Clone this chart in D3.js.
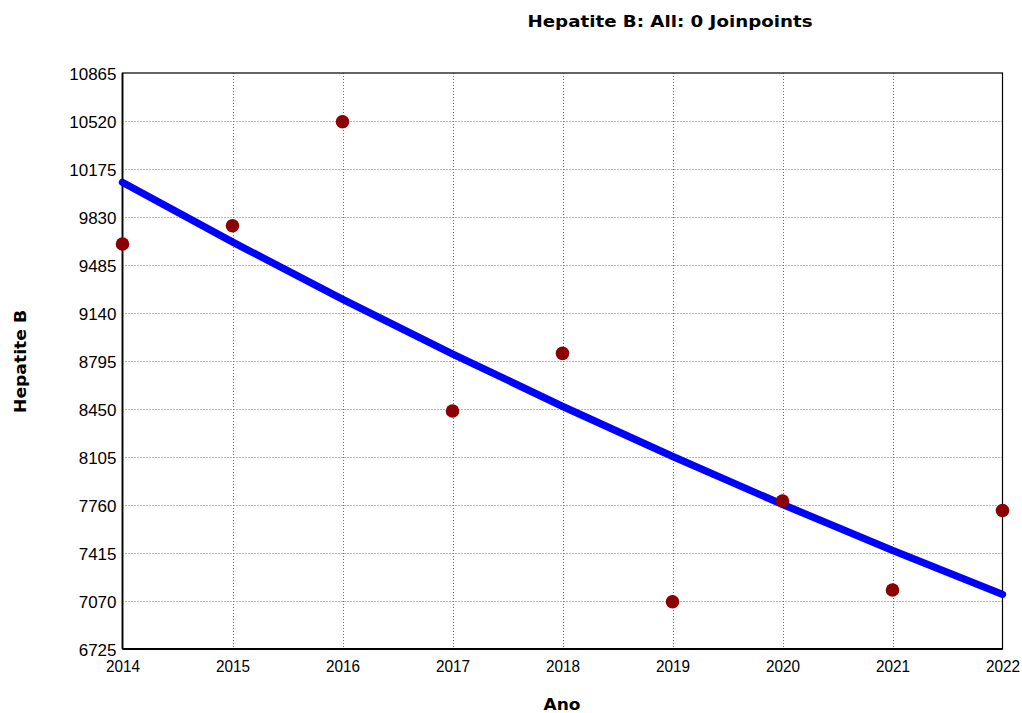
<!DOCTYPE html>
<html>
<head>
<meta charset="utf-8">
<script src="https://cdn.jsdelivr.net/npm/d3@7/dist/d3.min.js"></script>
<style>
  html, body { margin: 0; padding: 0; background: #ffffff; }
  svg { display: block; }
</style>
</head>
<body>
<svg id="chart" width="1022" height="713"></svg>
<script>
// Observed yearly counts
const years = [2014, 2015, 2016, 2017, 2018, 2019, 2020, 2021, 2022];
const observed = [9636, 9767, 10515, 8436, 8850, 7065, 7789, 7149, 7720];
// Modelled trend (0 joinpoints, log-linear)
const fitted = [10079, 9650, 9239, 8846, 8469, 8109, 7764, 7434, 7118];
// Axis ticks
const yTicks = [6725, 7070, 7415, 7760, 8105, 8450, 8795, 9140, 9485, 9830, 10175, 10520, 10865];
const xTicks = years;

const titleText = "Hepatite B: All: 0 Joinpoints";
const xLabel = "Ano";
const yLabel = "Hepatite B";

const svg = d3.select("#chart");
const plot = { left: 122.5, right: 1002.5, top: 73, bottom: 649 };

const x = d3.scaleLinear().domain([2014, 2022]).range([plot.left, plot.right]);
const y = d3.scaleLinear().domain([6725, 10865]).range([plot.bottom, plot.top]);

// Dotted grid
const grid = svg.append("g").attr("class", "grid");
grid.selectAll("line.h").data(yTicks.slice(1, -1)).enter().append("line")
  .attr("x1", plot.left).attr("x2", plot.right)
  .attr("y1", d => Math.round(y(d)) + 0.5).attr("y2", d => Math.round(y(d)) + 0.5)
  .attr("stroke", "#6e6e6e").attr("stroke-width", 1).attr("stroke-dasharray", "1,2");
grid.selectAll("line.v").data(xTicks.slice(1, -1)).enter().append("line")
  .attr("x1", d => Math.round(x(d)) + 0.5).attr("x2", d => Math.round(x(d)) + 0.5)
  .attr("y1", plot.top).attr("y2", plot.bottom)
  .attr("stroke", "#6e6e6e").attr("stroke-width", 1).attr("stroke-dasharray", "1,2");

// Plot frame
svg.append("rect")
  .attr("x", plot.left).attr("y", plot.top)
  .attr("width", plot.right - plot.left).attr("height", plot.bottom - plot.top)
  .attr("fill", "none").attr("stroke", "#000").attr("stroke-width", 1.2);
svg.append("line").attr("x1", plot.left).attr("x2", plot.left)
  .attr("y1", plot.top).attr("y2", plot.bottom).attr("stroke", "#000").attr("stroke-width", 1.8);
svg.append("line").attr("x1", plot.left).attr("x2", plot.right)
  .attr("y1", plot.bottom).attr("y2", plot.bottom).attr("stroke", "#000").attr("stroke-width", 1.8);

// Y axis
const yAxis = svg.append("g")
  .attr("transform", `translate(${plot.left},0)`)
  .call(d3.axisLeft(y).tickValues(yTicks).tickSize(0).tickPadding(6).tickFormat(d3.format("d")));
yAxis.select(".domain").remove();
yAxis.selectAll("text")
  .attr("font-family", "'Liberation Sans', Arial, sans-serif")
  .attr("font-size", 17).attr("fill", "#000").attr("dy", "0.36em");

// X axis
const xAxis = svg.append("g")
  .attr("transform", `translate(0,${plot.bottom})`)
  .call(d3.axisBottom(x).tickValues(xTicks).tickSize(0).tickPadding(11).tickFormat(d3.format("d")));
xAxis.select(".domain").remove();
xAxis.selectAll("text")
  .attr("font-family", "'Liberation Sans', Arial, sans-serif")
  .attr("font-size", 17).attr("fill", "#000")
  .attr("textLength", 34).attr("lengthAdjust", "spacingAndGlyphs");

// Trend line
const line = d3.line().x((d, i) => x(years[i])).y(d => y(d));
svg.append("path")
  .datum(fitted)
  .attr("d", line)
  .attr("fill", "none")
  .attr("stroke", "#0000ff")
  .attr("stroke-width", 7.3)
  .attr("stroke-linecap", "round")
  .attr("stroke-linejoin", "round");

// Observed points
svg.append("g").selectAll("circle").data(observed).enter().append("circle")
  .attr("cx", (d, i) => x(years[i]))
  .attr("cy", d => y(d))
  .attr("r", 6.8)
  .attr("fill", "#8b0000");

// Titles
svg.append("text")
  .attr("x", 670).attr("y", 27)
  .attr("text-anchor", "middle")
  .attr("font-family", "'DejaVu Sans', Tahoma, sans-serif")
  .attr("font-weight", "bold").attr("font-size", 15)
  .attr("textLength", 285).attr("lengthAdjust", "spacingAndGlyphs")
  .text(titleText);

svg.append("text")
  .attr("x", 562).attr("y", 710)
  .attr("text-anchor", "middle")
  .attr("font-family", "'DejaVu Sans', Tahoma, sans-serif")
  .attr("font-weight", "bold").attr("font-size", 15)
  .attr("textLength", 37).attr("lengthAdjust", "spacingAndGlyphs")
  .text(xLabel);

svg.append("text")
  .attr("transform", "translate(26,361.5) rotate(-90)")
  .attr("text-anchor", "middle")
  .attr("font-family", "'DejaVu Sans', Tahoma, sans-serif")
  .attr("font-weight", "bold").attr("font-size", 15)
  .attr("textLength", 103).attr("lengthAdjust", "spacingAndGlyphs")
  .text(yLabel);
</script>
</body>
</html>
